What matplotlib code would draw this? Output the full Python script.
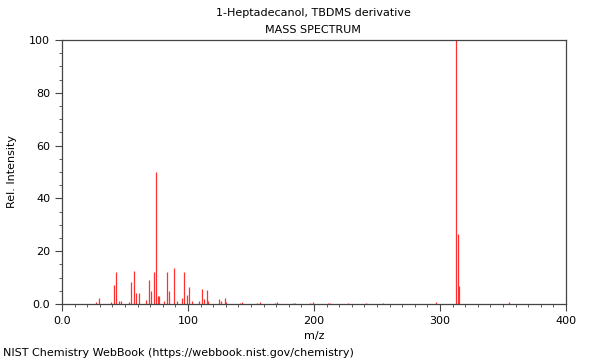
import matplotlib
matplotlib.use("Agg")
import matplotlib.pyplot as plt
from matplotlib.ticker import MultipleLocator

# m/z and relative intensity
mz = [27, 29, 39, 41, 43, 45, 47, 53, 55, 57, 59, 61,
      67, 69, 71, 73, 75, 76, 77, 81, 83, 85, 89, 91,
      95, 97, 99, 101, 103, 109, 111, 113, 115, 116,
      125, 126, 129, 130, 141, 143, 155, 157, 169, 171,
      183, 185, 197, 199, 211, 213, 227, 241, 255, 297,
      313, 314, 315, 355]
inten = [0.8, 2.4, 0.6, 7.2, 12.0, 1.2, 1.0, 0.8, 8.3, 12.5, 4.0, 4.0,
         1.5, 9.0, 5.0, 12.0, 50.0, 3.2, 3.0, 1.0, 12.0, 5.0, 13.5, 1.2,
         2.2, 12.3, 3.4, 6.3, 1.0, 1.0, 5.7, 2.0, 5.3, 1.0,
         2.0, 1.0, 2.3, 0.8, 0.5, 0.8, 0.4, 0.7, 0.4, 0.6,
         0.3, 0.5, 0.3, 0.6, 0.3, 0.5, 0.5, 0.4, 0.4, 0.9,
         100.0, 26.5, 6.8, 0.9]

xticks = [0, 100, 200, 300, 400]
xlabels = ["0.0", "100", "200", "300", "400"]
yticks = [0, 20, 40, 60, 80, 100]
ylabels = ["0.0", "20", "40", "60", "80", "100"]

fig = plt.figure(figsize=(6, 3.6), dpi=100)
ax = fig.add_axes([0.1033, 0.1556, 0.84, 0.7333])

ax.vlines(mz, 0, inten, colors="#ff3030", linewidth=0.9)

ax.set_xlim(0, 400)
ax.set_ylim(0, 100)
ax.set_xticks(xticks)
ax.set_xticklabels(xlabels)
ax.set_yticks(yticks)
ax.set_yticklabels(ylabels)
ax.xaxis.set_minor_locator(MultipleLocator(10))
ax.yaxis.set_minor_locator(MultipleLocator(5))
ax.tick_params(which="major", length=5, width=0.8, color="#444444", labelsize=8)
ax.tick_params(which="minor", length=2.5, width=0.6, color="#444444")
for s in ax.spines.values():
    s.set_color("#444444")
    s.set_linewidth(0.9)

ax.set_xlabel("m/z", fontsize=8)
ax.set_ylabel("Rel. Intensity", fontsize=8)
ax.yaxis.set_label_coords(-0.09, 0.5)

fig.text(0.5 + 0.022, 0.963, "1-Heptadecanol, TBDMS derivative", ha="center", va="center", fontsize=8)
fig.text(0.5 + 0.022, 0.916, "MASS SPECTRUM", ha="center", va="center", fontsize=8)
fig.text(0.005, 0.02, "NIST Chemistry WebBook (https://webbook.nist.gov/chemistry)", ha="left", va="center", fontsize=8)

fig.savefig("out.png", dpi=100)
